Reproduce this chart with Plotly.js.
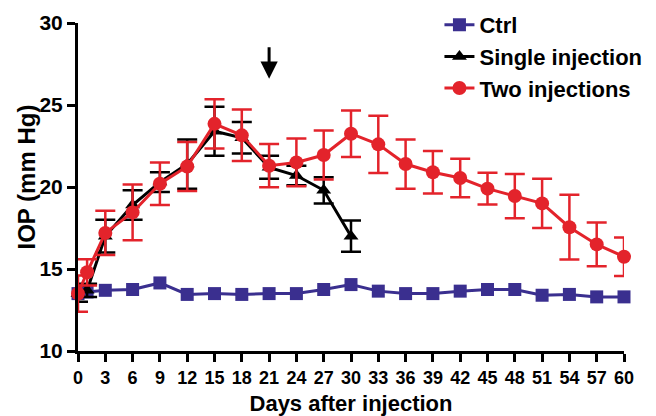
<!DOCTYPE html>
<html>
<head>
<meta charset="utf-8">
<script src="https://cdn.plot.ly/plotly-3.0.1.min.js"></script>
<style>html,body{margin:0;padding:0;background:#fff}#chart{width:656px;height:416px}</style>
</head>
<body>
<div id="chart"></div>
<script>
// Data
const daysCtrl = [0,1,3,6,9,12,15,18,21,24,27,30,33,36,39,42,45,48,51,54,57,60];
const ctrlIOP  = [13.5,13.6,13.7,13.75,14.15,13.45,13.5,13.45,13.5,13.5,13.75,14.05,13.65,13.5,13.5,13.65,13.75,13.75,13.4,13.45,13.3,13.3];

const daysSingle = [0,1,3,6,9,12,15,18,21,24,27,30];
const singleIOP  = [13.5,13.7,17.0,18.9,20.3,21.4,23.4,23.0,21.2,20.7,19.8,17.0];
const singleErr  = [0.5,0.4,1.0,0.9,0.6,1.5,1.5,0.96,0.7,0.6,0.8,0.95];

const daysTwo = [0,1,3,6,9,12,15,18,21,24,27,30,33,36,39,42,45,48,51,54,57,60];
const twoIOP  = [13.5,14.8,17.2,18.45,20.2,21.25,23.85,23.15,21.3,21.5,21.95,23.25,22.6,21.4,20.9,20.55,19.9,19.45,19.0,17.55,16.5,15.75];
const twoErr  = [1.1,0.8,1.35,1.7,1.3,1.5,1.5,1.57,1.32,1.45,1.5,1.42,1.75,1.5,1.3,1.17,0.97,1.35,1.5,1.97,1.33,1.17];

const xTicks = [0,3,6,9,12,15,18,21,24,27,30,33,36,39,42,45,48,51,54,57,60];
const yTicks = [10,15,20,25,30];
const arrowDay = 21;
const arrowTipIOP = 26.6;

const FONT = 'Liberation Sans, Arial, Helvetica, sans-serif';
const BLUE = '#3a2f8f';
const RED = '#e3232b';

const traces = [
  {
    x: daysCtrl, y: ctrlIOP, name: 'Ctrl', type: 'scatter', mode: 'lines+markers',
    line: {color: BLUE, width: 3},
    marker: {symbol: 'square', size: 13, color: BLUE},
    cliponaxis: false
  },
  {
    x: daysSingle, y: singleIOP, name: 'Single injection', type: 'scatter', mode: 'lines+markers',
    line: {color: '#000', width: 3},
    marker: {symbol: 'triangle-up', size: 13, color: '#000'},
    error_y: {type: 'data', array: singleErr, visible: true, color: '#000', thickness: 2.5, width: 10},
    cliponaxis: false
  },
  {
    x: daysTwo, y: twoIOP, name: 'Two injections', type: 'scatter', mode: 'lines+markers',
    line: {color: RED, width: 3},
    marker: {symbol: 'circle', size: 14, color: RED},
    error_y: {type: 'data', array: twoErr, visible: true, color: RED, thickness: 2.5, width: 10},
    cliponaxis: false
  }
];

const layout = {
  width: 656, height: 416,
  margin: {l: 78, r: 32, t: 23, b: 64.5, autoexpand: false},
  paper_bgcolor: '#fff', plot_bgcolor: '#fff',
  font: {family: FONT, color: '#000', weight: 'bold'},
  showlegend: true,
  legend: {
    x: 0.662, y: 1.058, xanchor: 'left', yanchor: 'top',
    font: {family: FONT, size: 22, color: '#000', weight: 'bold'},
    bgcolor: 'rgba(0,0,0,0)', itemwidth: 30, tracegroupgap: 0
  },
  xaxis: {
    range: [0, 60], tickmode: 'array', tickvals: xTicks, ticktext: xTicks.map(String),
    showline: true, linecolor: '#000', linewidth: 3, mirror: false,
    ticks: 'outside', ticklen: 8, tickwidth: 3, tickcolor: '#000',
    showgrid: false, zeroline: false,
    tickfont: {family: FONT, size: 18, color: '#000', weight: 'bold'},
    title: {text: 'Days after injection', font: {family: FONT, size: 22, color: '#000', weight: 'bold'}, standoff: 10},
    automargin: false
  },
  yaxis: {
    range: [10, 30], tickmode: 'array', tickvals: yTicks,
    showline: true, linecolor: '#000', linewidth: 3,
    ticks: 'outside', ticklen: 8, tickwidth: 3, tickcolor: '#000',
    showgrid: false, zeroline: false,
    tickfont: {family: FONT, size: 21, color: '#000', weight: 'bold'},
    automargin: false
  },
  annotations: [
    {
      x: arrowDay, y: arrowTipIOP, xref: 'x', yref: 'y',
      ax: 0, ay: -33, axref: 'pixel', ayref: 'pixel',
      showarrow: true, arrowhead: 2, arrowwidth: 3, arrowsize: 1.15, arrowcolor: '#000', text: '', standoff: 0
    },
    {
      text: 'IOP (mm Hg)', textangle: -90, showarrow: false,
      xref: 'paper', yref: 'paper', x: -0.094, y: 0.531, xanchor: 'center', yanchor: 'middle',
      font: {family: FONT, size: 24, color: '#000', weight: 'bold'}
    }
  ]
};

Plotly.newPlot('chart', traces, layout, {displayModeBar: false, staticPlot: true});
</script>
</body>
</html>
